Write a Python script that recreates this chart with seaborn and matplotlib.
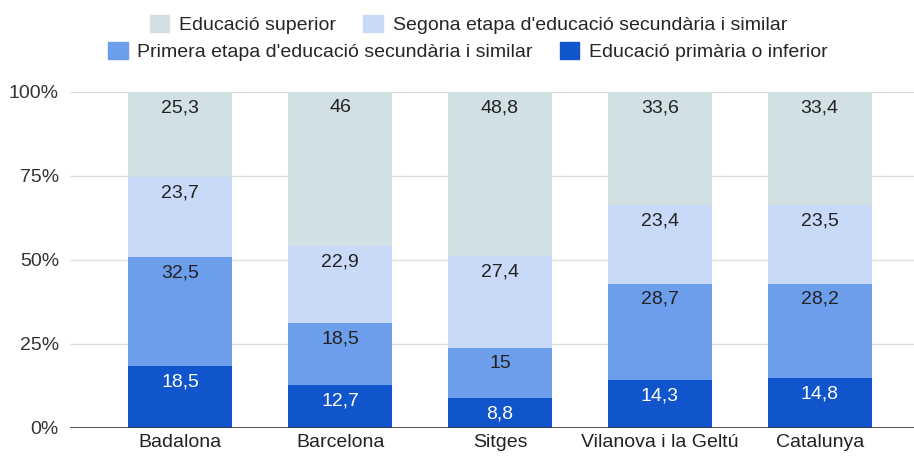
import matplotlib.pyplot as plt
import seaborn as sns
import numpy as np
import pandas as pd
from matplotlib.patches import Patch

sns.set_style("white")
plt.rcParams['font.family'] = ['Liberation Sans', 'DejaVu Sans']

cities = ['Badalona', 'Barcelona', 'Sitges', 'Vilanova i la Geltú', 'Catalunya']
primaria = [18.5, 12.7, 8.8, 14.3, 14.8]
primera = [32.5, 18.5, 15, 28.7, 28.2]
segona = [23.7, 22.9, 27.4, 23.4, 23.5]
superior = [25.3, 46, 48.8, 33.6, 33.4]

levels = ['Educació primària o inferior', "Primera etapa d'educació secundària i similar",
          "Segona etapa d'educació secundària i similar", 'Educació superior']
colors = ['#1155cc', '#6d9eeb', '#c9daf8', '#d0e0e3']
text_colors = ['white', '#222222', '#222222', '#222222']
FS = 14

df = pd.DataFrame({'city': cities, levels[0]: primaria, levels[1]: primera,
                   levels[2]: segona, levels[3]: superior})

fig = plt.figure(figsize=(9.14, 4.57), dpi=100)
ax = fig.add_axes([0.0766, 0.0635, 0.9234, 0.7352])

bottom = np.zeros(len(cities))
for lvl, col, tc in zip(levels, colors, text_colors):
    vals = df[lvl].values
    sns.barplot(x=df['city'], y=vals, bottom=bottom, color=col, width=0.65, ax=ax,
                saturation=1, linewidth=0, edgecolor='none')
    for i, (b, v) in enumerate(zip(bottom, vals)):
        ax.annotate(f"{v:g}".replace('.', ','), (i, b + v), xytext=(0, -11.5),
                    textcoords='offset points', ha='center', va='center',
                    fontsize=FS, color=tc, zorder=10)
    bottom = bottom + vals

ax.set_ylim(0, 100)
ax.set_xlim(-0.69, 4.59)
ax.set_yticks([0, 25, 50, 75, 100])
ax.set_yticklabels(['0%', '25%', '50%', '75%', '100%'], fontsize=FS, color='#333333')
ax.set_xlabel('')
ax.set_ylabel('')
ax.tick_params(axis='x', labelsize=FS, colors='#222222', length=0, pad=4)
ax.tick_params(axis='y', length=0, pad=8)
for y in [25, 50, 75, 100]:
    ax.axhline(y, color='#dddddd', lw=1, zorder=0)
ax.axhline(0, color='#333333', lw=1.2, zorder=20)
for s in ax.spines.values():
    s.set_visible(False)

row1 = [Patch(color=colors[3]), Patch(color=colors[2])]
row2 = [Patch(color=colors[1]), Patch(color=colors[0])]
leg_kw = dict(ncol=2, loc='center', frameon=False, fontsize=FS, handlelength=1.0,
              handleheight=1.0, columnspacing=1.4, handletextpad=0.5, borderpad=0)
fig.legend(row1, [levels[3], levels[2]], bbox_to_anchor=(0.5126, 0.946), **leg_kw)
fig.legend(row2, [levels[1], levels[0]], bbox_to_anchor=(0.512, 0.888), **leg_kw)

fig.savefig('out.png', dpi=100)
